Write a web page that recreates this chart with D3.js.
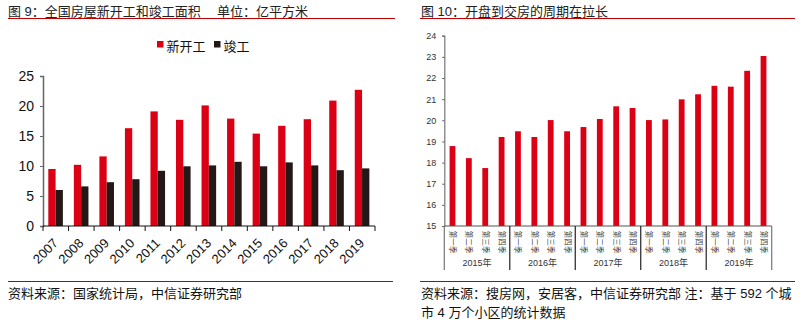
<!DOCTYPE html>
<html><head><meta charset="utf-8">
<script src="https://cdn.jsdelivr.net/npm/d3@7"></script>
<style>
body{margin:0;background:#fff;}
svg text{font-family:"Liberation Sans",Arial,"Noto Sans CJK SC",sans-serif;}
</style></head>
<body>
<svg id="c" width="800" height="326"></svg>
<script>
// ---- Chart 9 data ----
const years = ["2007","2008","2009","2010","2011","2012","2013","2014","2015","2016","2017","2018","2019"];
const newStarts = [9.5,10.2,11.6,16.3,19.1,17.7,20.1,17.9,15.4,16.7,17.8,20.9,22.7];
const completions = [6.0,6.6,7.3,7.8,9.2,9.95,10.1,10.7,9.95,10.6,10.1,9.3,9.6];
const leftTicks = [0,5,10,15,20,25];
const seriesNames = ["新开工","竣工"];
// ---- Chart 10 data ----
const quarterYears = ["2015年","2016年","2017年","2018年","2019年"];
const quarterNames = ["第一季","第二季","第三季","第四季"];
const cycleMonths = [18.78,18.21,17.74,19.21, 19.48,19.21,20.01,19.48, 19.68,20.06,20.66,20.58, 20.01,20.04,20.99,21.23, 21.63,21.59,22.34,23.04];
const rightTicks = [15,16,17,18,19,20,21,22,23,24];

const RED = "#DC0014", DARK = "#231815", LINE_RED = "#C00000";
const svg = d3.select("#c");

// ========== Left chart ==========
svg.append("text").attr("x",8).attr("y",16).attr("font-size",13).attr("fill","#222")
  .text("图 9：全国房屋新开工和竣工面积");
svg.append("text").attr("x",217).attr("y",16).attr("font-size",13).attr("fill","#222")
  .text("单位：亿平方米");
svg.append("line").attr("x1",8).attr("x2",395).attr("y1",18.5).attr("y2",18.5).attr("stroke",LINE_RED).attr("stroke-width",1.2);

// legend
const lg = svg.append("g");
[[157,RED,seriesNames[0]],[214,DARK,seriesNames[1]]].forEach(([x,c,t])=>{
  lg.append("rect").attr("x",x).attr("y",41).attr("width",6.5).attr("height",6.5).attr("fill",c);
  lg.append("text").attr("x",x+9.5).attr("y",51).attr("font-size",13).attr("fill","#111").text(t);
});

const xL = d3.scaleBand().domain(years).range([43,375]).padding(0);
const yL = d3.scaleLinear().domain([0,25]).range([226,76]);
const gL = svg.append("g");
const bw = 7.3, off = 5.3;
gL.selectAll("rect.n").data(years).join("rect").attr("class","n")
  .attr("x",d=>xL(d)+off).attr("width",bw)
  .attr("y",(d,i)=>yL(newStarts[i])).attr("height",(d,i)=>yL(0)-yL(newStarts[i]))
  .attr("fill",RED);
gL.selectAll("rect.c").data(years).join("rect").attr("class","c")
  .attr("x",d=>xL(d)+off+bw).attr("width",bw)
  .attr("y",(d,i)=>yL(completions[i])).attr("height",(d,i)=>yL(0)-yL(completions[i]))
  .attr("fill",DARK);

// y axis
const yAx = gL.append("g").attr("transform","translate(43,0)")
  .call(d3.axisLeft(yL).tickValues(leftTicks).tickSize(3).tickPadding(6));
yAx.select(".domain").attr("stroke","#666").attr("stroke-width",1.5);
yAx.selectAll(".tick line").attr("stroke","#666");
yAx.selectAll("text").attr("font-size",14).attr("fill","#111").attr("font-family",'"Liberation Sans",Arial,sans-serif');
// x axis
gL.append("line").attr("x1",43).attr("x2",375).attr("y1",226).attr("y2",226).attr("stroke","#111").attr("stroke-width",1.2);
gL.selectAll("line.xt").data(d3.range(years.length+1)).join("line").attr("class","xt")
  .attr("x1",i=>43+i*xL.bandwidth()).attr("x2",i=>43+i*xL.bandwidth())
  .attr("y1",226).attr("y2",231).attr("stroke","#111");
gL.selectAll("text.xl").data(years).join("text").attr("class","xl")
  .attr("text-anchor","end").attr("font-size",13).attr("fill","#111")
  .attr("transform",d=>`translate(${xL(d)+xL.bandwidth()/2+3},${244}) rotate(-45)`)
  .text(d=>d);

svg.append("line").attr("x1",8).attr("x2",393).attr("y1",281.5).attr("y2",281.5).attr("stroke",LINE_RED).attr("stroke-width",1.2);
svg.append("text").attr("x",8).attr("y",298).attr("font-size",13).attr("fill","#111")
  .text("资料来源：国家统计局，中信证券研究部");

// ========== Right chart ==========
svg.append("text").attr("x",421).attr("y",16).attr("font-size",13).attr("fill","#222")
  .text("图 10：开盘到交房的周期在拉长");
svg.append("line").attr("x1",420).attr("x2",795).attr("y1",18.5).attr("y2",18.5).attr("stroke",LINE_RED).attr("stroke-width",1.2);

const qLabels = [];
quarterYears.forEach(y=>quarterNames.forEach(q=>qLabels.push(y+q)));
const xR = d3.scaleBand().domain(qLabels).range([444.3,771.7]).padding(0);
const yR = d3.scaleLinear().domain([15,24]).range([226,35.7]);
const gR = svg.append("g");
const rbw = 5.8;
gR.selectAll("rect").data(qLabels).join("rect")
  .attr("x",d=>xR(d)+xR.bandwidth()/2-rbw/2).attr("width",rbw)
  .attr("y",(d,i)=>yR(cycleMonths[i])).attr("height",(d,i)=>yR(15)-yR(cycleMonths[i]))
  .attr("fill",RED);

const yAxR = gR.append("g").attr("transform","translate(444.3,0)")
  .call(d3.axisLeft(yR).tickValues(rightTicks).tickSize(2).tickPadding(6));
yAxR.select(".domain").attr("stroke","#777").attr("stroke-width",1.2);
yAxR.selectAll(".tick line").attr("stroke","#555");
yAxR.selectAll("text").attr("font-size",9).attr("fill","#333");
// x axis baseline
gR.append("line").attr("x1",444.3).attr("x2",771.7).attr("y1",226).attr("y2",226).attr("stroke","#555").attr("stroke-width",1.2);
// group separators
gR.selectAll("line.sep").data(d3.range(quarterYears.length+1)).join("line").attr("class","sep")
  .attr("x1",i=>444.3+i*4*xR.bandwidth()).attr("x2",i=>444.3+i*4*xR.bandwidth())
  .attr("y1",226).attr("y2",270).attr("stroke",(i)=> (i===0||i===quarterYears.length)?"#777":"#222").attr("stroke-width",1.2);
// quarter labels: vertical, each character rotated 90°
const qg = gR.selectAll("g.q").data(qLabels).join("g").attr("class","q")
  .attr("transform",d=>`translate(${xR(d)+xR.bandwidth()/2},0)`);
qg.selectAll("text").data((d,i)=>quarterNames[i%4].split("")).join("text")
  .attr("font-size",7.5).attr("fill","#444").attr("text-anchor","middle")
  .attr("dominant-baseline","central")
  .attr("font-family",'"Noto Sans CJK SC",sans-serif')
  .attr("transform",(c,j)=>`translate(0,${234.5+j*7.6}) rotate(90)`)
  .text(c=>c);
gR.selectAll("text.yr").data(quarterYears).join("text").attr("class","yr")
  .attr("x",(d,i)=>444.3+(i*4+2)*xR.bandwidth()).attr("y",265.5)
  .attr("text-anchor","middle").attr("font-size",9).attr("fill","#333").text(d=>d);

svg.append("line").attr("x1",420).attr("x2",795).attr("y1",281.5).attr("y2",281.5).attr("stroke",LINE_RED).attr("stroke-width",1.2);
svg.append("text").attr("x",421).attr("y",298).attr("font-size",13).attr("fill","#111")
  .text("资料来源：搜房网，安居客，中信证券研究部 注：基于 592 个城");
svg.append("text").attr("x",421).attr("y",317).attr("font-size",13).attr("fill","#111")
  .text("市 4 万个小区的统计数据");
</script>
</body></html>
